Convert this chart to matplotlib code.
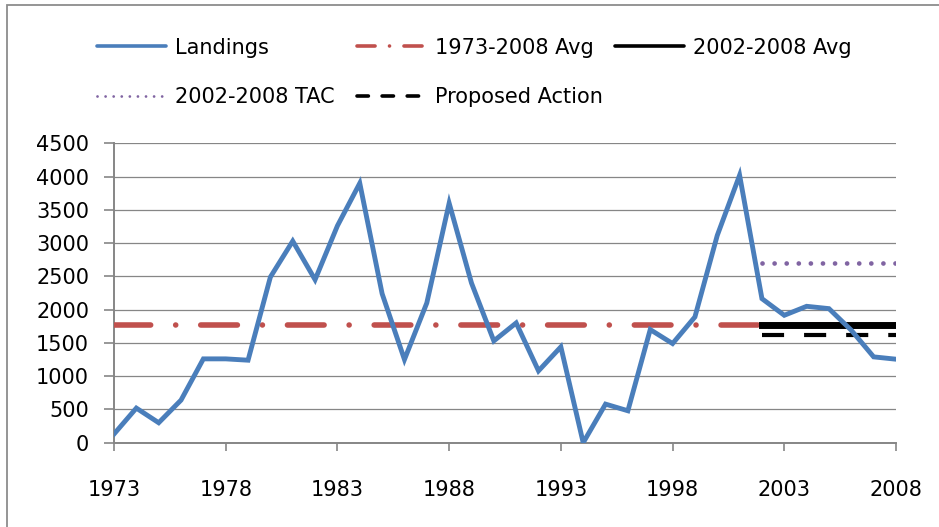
import matplotlib
matplotlib.use("Agg")
import matplotlib.pyplot as plt
from matplotlib.patches import Rectangle
from matplotlib.lines import Line2D

# ---- data ----
years = list(range(1973, 2009))
landings = [130, 520, 300, 640, 1260, 1260, 1240, 2490, 3030, 2450,
            3260, 3900, 2240, 1250, 2100, 3600, 2400, 1530, 1800, 1080,
            1440, 0, 580, 480, 1700, 1490, 1890, 3115, 4020, 2165,
            1915, 2050, 2015, 1690, 1290, 1255]
avg_all = 1766        # 1973-2008 Avg
avg_recent = 1769     # 2002-2008 Avg
tac = 2700            # 2002-2008 TAC
proposed = 1620       # Proposed Action
recent_years = [2002, 2008]
xticks = list(range(1973, 2009, 5))
yticks = list(range(0, 4501, 500))

BLUE, RED, PURPLE, BLACK, GRID = "#4A7EBB", "#C0504D", "#8064A2", "#000000", "#868686"

plt.rcParams.update({"font.family": "DejaVu Sans", "font.size": 15})

fig = plt.figure(figsize=(9.39, 5.27), dpi=100)
ax = fig.add_axes([114 / 939, 84.3 / 527, 782 / 939, 299.4 / 527])

# outer chart frame (right/bottom edges fall outside the image)
fig.patches.append(Rectangle((7 / 939, -0.05), 1.2, 1 - 5 / 527 + 0.05,
                             transform=fig.transFigure, fill=False,
                             ec="#8C8C8C", lw=1.3))

ax.plot(years, landings, color=BLUE, lw=3.5, solid_joinstyle="miter", zorder=5)
ax.plot([years[0], years[-1]], [avg_all, avg_all], color=RED, lw=4,
        dash_capstyle="round", dashes=(6.6, 4.5, 0.01, 4.5), zorder=3)
ax.plot(recent_years, [avg_recent] * 2, color=BLACK, lw=5, zorder=4)
ax.plot(recent_years, [tac] * 2, color=PURPLE, lw=3.4,
        dash_capstyle="round", dashes=(0.01, 2.55), zorder=3)
ax.plot(recent_years, [proposed] * 2, color=BLACK, lw=3,
        dash_capstyle="butt", dashes=(5.3, 4.8), zorder=4)

ax.set_xlim(1973, 2008)
ax.set_ylim(0, 4500)
ax.set_xticks(xticks)
ax.set_yticks(yticks)
ax.grid(axis="y", color=GRID, lw=0.9)
ax.set_axisbelow(True)
for s in ("top", "right"):
    ax.spines[s].set_visible(False)
for s in ("left", "bottom"):
    ax.spines[s].set_color(GRID)
    ax.spines[s].set_linewidth(1.4)
ax.tick_params(axis="y", length=7, width=1.2, color=GRID, pad=11)
ax.tick_params(axis="x", length=6, width=1.2, color=GRID, pad=21)

# legend keys are drawn thinner than the series, as in the original
h_land = Line2D([], [], color=BLUE, lw=2.6, solid_capstyle="round", label="Landings")
h_all = Line2D([], [], color=RED, lw=2.6, dash_capstyle="round",
               dashes=(5.0, 4.0, 0.01, 4.0), label="1973-2008 Avg")
h_rec = Line2D([], [], color=BLACK, lw=2.6, solid_capstyle="round", label="2002-2008 Avg")
h_tac = Line2D([], [], color=PURPLE, lw=2.0, dash_capstyle="round",
               dashes=(0.01, 2.9), label="2002-2008 TAC")
h_prop = Line2D([], [], color=BLACK, lw=2.6, dash_capstyle="round",
                dashes=(3.15, 3.8), label="Proposed Action")

# Excel spaces the legend columns unevenly, so one legend per column
leg_kw = dict(loc="upper left", frameon=False, handlelength=3.3, handletextpad=0.44,
              labelspacing=1.42, borderpad=0, borderaxespad=0)
for handles, x0 in [([h_land, h_tac], 97), ([h_all, h_prop], 357), ([h_rec], 615)]:
    fig.legend(handles=handles, bbox_to_anchor=(x0 / 939, 1 - 37.5 / 527), **leg_kw)

fig.savefig("out.png", dpi=100)
